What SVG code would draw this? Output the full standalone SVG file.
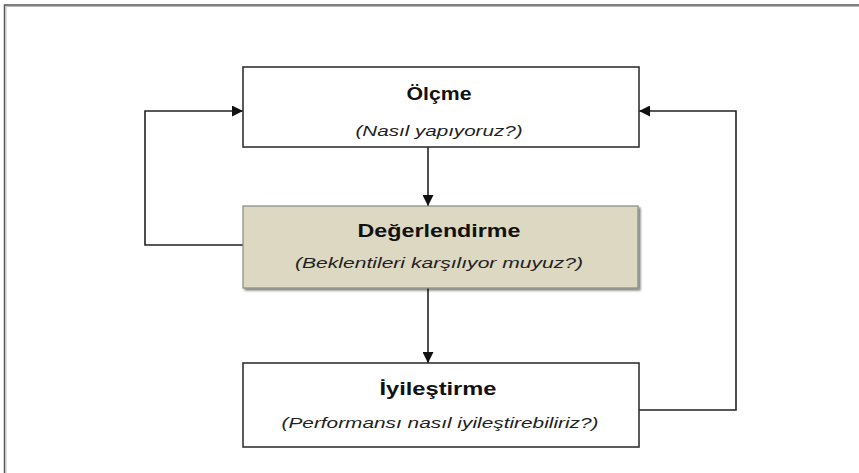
<svg xmlns="http://www.w3.org/2000/svg" width="859" height="473" viewBox="0 0 859 473">
<defs>
<marker id="arr" viewBox="0 0 10 10" refX="10" refY="5" markerWidth="11" markerHeight="11" markerUnits="userSpaceOnUse" orient="auto">
<path d="M0,0 L10,5 L0,10 Z" fill="#111"/>
</marker>
<filter id="sh" x="-5%" y="-5%" width="115%" height="120%">
<feGaussianBlur in="SourceAlpha" stdDeviation="1.2"/>
<feOffset dx="2" dy="2" result="b"/>
<feComponentTransfer><feFuncA type="linear" slope="0.5"/></feComponentTransfer>
<feMerge><feMergeNode/><feMergeNode in="SourceGraphic"/></feMerge>
</filter>
</defs>
<style>
.box{fill:#fff;stroke:#333;stroke-width:1.6}
.tan{fill:#ddd8c2;stroke:#8a8a80;stroke-width:1.2}
.t{font-family:"Liberation Sans",Arial,sans-serif;font-weight:bold;font-size:19px;fill:#111;text-anchor:middle}
.s{font-family:"Liberation Sans",Arial,sans-serif;font-style:italic;font-size:15px;fill:#222;text-anchor:middle}
.c{fill:none;stroke:#222;stroke-width:1.6}
</style>
<rect width="859" height="473" fill="#fff"/>
<path d="M4.5,473 V5 H859" fill="none" stroke="#555" stroke-width="1.5"/>
<path d="M6,473 V6.5 H859" fill="none" stroke="#bbb" stroke-width="1"/>
<g id="connectors">
<line class="c" x1="428" y1="147" x2="428" y2="206" marker-end="url(#arr)"/>
<line class="c" x1="428" y1="288" x2="428" y2="363" marker-end="url(#arr)"/>
<polyline class="c" points="243,245 145,245 145,111 243,111" marker-end="url(#arr)"/>
<polyline class="c" points="639,410 736,410 736,111 639,111" marker-end="url(#arr)"/>
</g>
<g id="olcme">
<rect class="box" x="243" y="67" width="396" height="80"/>
<text class="t" x="439" y="100" textLength="65" lengthAdjust="spacingAndGlyphs">Ölçme</text>
<text class="s" x="439" y="136" textLength="167" lengthAdjust="spacingAndGlyphs">(Nasıl yapıyoruz?)</text>
</g>
<g id="degerlendirme">
<rect class="tan" x="243" y="206" width="395" height="82" filter="url(#sh)"/>
<text class="t" x="439" y="237" textLength="163" lengthAdjust="spacingAndGlyphs">Değerlendirme</text>
<text class="s" x="439" y="268" textLength="288" lengthAdjust="spacingAndGlyphs">(Beklentileri  karşılıyor muyuz?)</text>
</g>
<g id="iyilestirme">
<rect class="box" x="243" y="363" width="396" height="84"/>
<text class="t" x="438" y="395" textLength="117" lengthAdjust="spacingAndGlyphs">İyileştirme</text>
<text class="s" x="440" y="428" textLength="317" lengthAdjust="spacingAndGlyphs">(Performansı  nasıl iyileştirebiliriz?)</text>
</g>
</svg>
